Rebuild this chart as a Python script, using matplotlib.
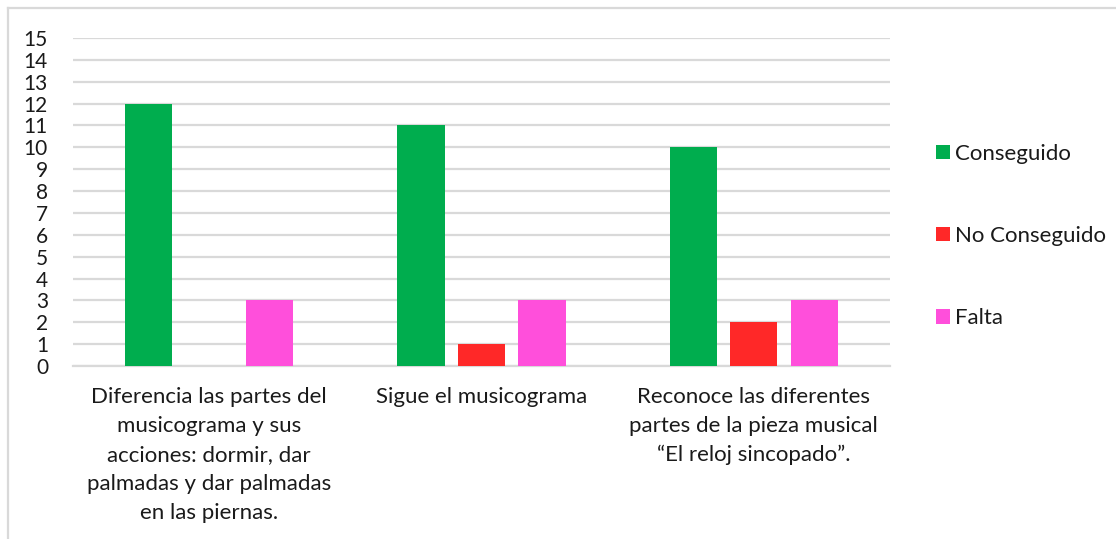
import matplotlib
matplotlib.use("Agg")
import matplotlib.pyplot as plt
from matplotlib.lines import Line2D
from matplotlib.patches import Patch
import numpy as np

categories = [
    "Diferencia las partes del\nmusicograma y sus\nacciones: dormir, dar\npalmadas y dar palmadas\nen las piernas.",
    "Sigue el musicograma",
    "Reconoce las diferentes\npartes de la pieza musical\n\u201cEl reloj sincopado\u201d.",
]
series_names = ["Conseguido", "No Conseguido", "Falta"]
conseguido = [12, 11, 10]
no_conseguido = [0, 1, 2]
falta = [3, 3, 3]
colors = ["#00AD4E", "#FF2828", "#FF4FDB"]
yticks = list(range(0, 16))

plt.rcParams['font.family'] = ['Lato', 'DejaVu Sans']

W, H = 1116, 539
fig = plt.figure(figsize=(W / 100, H / 100), dpi=100)
ax = fig.add_axes([73 / W, 1 - 366 / H, (890 - 73) / W, (366 - 38) / H])

x = np.arange(len(categories))
bw = 0.173
step = 0.222
for i, (vals, c, name) in enumerate(zip([conseguido, no_conseguido, falta], colors, series_names)):
    ax.bar(x + (i - 1) * step, vals, width=bw, color=c, label=name, zorder=3)

ax.set_xlim(-0.5, 2.5)
ax.set_ylim(0, 15)
ax.set_yticks(yticks)
ax.set_yticklabels([str(t) for t in yticks], fontsize=15, color="#1a1a1a")
ax.yaxis.grid(True, color="#d9d9d9", linewidth=1.6, zorder=0)
ax.set_axisbelow(True)
ax.tick_params(axis='y', length=0, pad=18)
ax.tick_params(axis='x', length=0, pad=15)
ax.set_xticks(x)
ax.set_xticklabels(categories, fontsize=16, color="#1a1a1a", linespacing=1.56)
for s in ["top", "right", "left"]:
    ax.spines[s].set_visible(False)
ax.spines["bottom"].set_color("#d9d9d9")
ax.spines["bottom"].set_linewidth(1.6)

handles = [Patch(facecolor=c, edgecolor='none') for c in colors]
fig.legend(handles, series_names, loc="center left",
           bbox_to_anchor=(916 / W, 1 - 236 / H), frameon=False,
           fontsize=16, labelspacing=2.8, handlelength=0.63, handleheight=0.63,
           handletextpad=0.22, labelcolor="#1a1a1a")

fig.add_artist(Line2D([8 / W, 1115 / W], [1 - 8 / H, 1 - 8 / H], color="#d9d9d9", linewidth=1.6))
fig.add_artist(Line2D([8 / W, 8 / W], [1 - 8 / H, 0], color="#d9d9d9", linewidth=1.6))

fig.savefig("out.png", dpi=100, facecolor="white")
